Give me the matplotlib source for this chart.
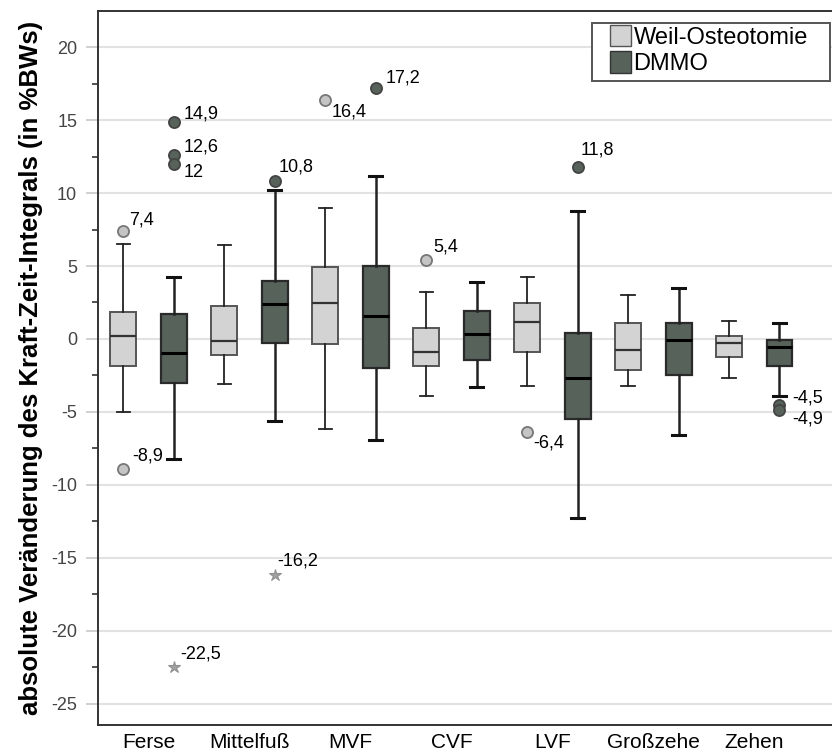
import matplotlib
matplotlib.use('Agg')
import matplotlib.pyplot as plt
from matplotlib.patches import Patch, Rectangle
from matplotlib.ticker import MultipleLocator

plt.rcParams['font.family'] = ['Liberation Sans', 'DejaVu Sans']
plt.rcParams['axes.unicode_minus'] = False

categories = ['Ferse', 'Mittelfuß', 'MVF', 'CVF', 'LVF', 'Großzehe', 'Zehen']
groups = ['Weil-Osteotomie', 'DMMO']

# box statistics per region
weil_whislo = [-4.98, -3.08, -6.15, -3.89, -3.2, -3.2, -2.65]
weil_q1     = [-1.83, -1.08, -0.34, -1.83, -0.87, -2.1, -1.21]
weil_med    = [0.23, -0.12, 2.45, -0.87, 1.14, -0.73, -0.25]
weil_q3     = [1.83, 2.28, 4.93, 0.75, 2.45, 1.1, 0.19]
weil_whishi = [6.53, 6.42, 9.0, 3.24, 4.23, 3.0, 1.21]

dmmo_whislo = [-8.2, -5.6, -6.94, -3.31, -12.29, -6.56, -3.89]
dmmo_q1     = [-3.02, -0.27, -1.97, -1.42, -5.48, -2.49, -1.83]
dmmo_med    = [-0.98, 2.42, 1.58, 0.36, -2.65, -0.07, -0.57]
dmmo_q3     = [1.69, 3.98, 5.0, 1.94, 0.41, 1.1, -0.05]
dmmo_whishi = [4.23, 10.21, 11.17, 3.89, 8.79, 3.47, 1.1]

# outliers: (region index, value); extremes drawn as stars
weil_outliers = [(0, 7.4), (0, -8.9), (2, 16.4), (3, 5.4), (4, -6.4)]
dmmo_outliers = [(0, 14.9), (0, 12.6), (0, 12.0), (1, 10.8), (2, 17.2),
                 (4, 11.8), (6, -4.5), (6, -4.9)]
dmmo_extremes = [(0, -22.5), (1, -16.2)]

# label offsets in pixels (right, up) for each outlier, same order as above
weil_lbl_off = [(6, 11), (9, 13), (6, -12), (7, 13), (6, -11)]
dmmo_lbl_off = [(10, 8), (10, 8), (10, -9), (4, 14), (10, 10),
                (3, 17), (13, 7), (13, -9)]
ext_lbl_off = [(7, 13), (3, 14)]

light = '#d3d3d3'
dark = '#57625b'

fig = plt.figure(figsize=(8.32, 7.53), dpi=100)
ax = fig.add_axes([98 / 832, 28 / 753, 735 / 832, 714 / 753])


def make_stats(lo, q1, med, q3, hi):
    return [dict(whislo=lo[i], q1=q1[i], med=med[i], q3=q3[i], whishi=hi[i], fliers=[])
            for i in range(len(lo))]


off = 0.25
pos_w = [i - off for i in range(len(categories))]
pos_d = [i + off for i in range(len(categories))]

ax.bxp(make_stats(weil_whislo, weil_q1, weil_med, weil_q3, weil_whishi),
       positions=pos_w, widths=0.257, capwidths=0.13, patch_artist=True, showfliers=False,
       boxprops=dict(facecolor=light, edgecolor='#555555', linewidth=1.4),
       medianprops=dict(color='#333333', linewidth=1.6),
       whiskerprops=dict(color='#222222', linewidth=1.3),
       capprops=dict(color='#222222', linewidth=1.3), zorder=3)
ax.bxp(make_stats(dmmo_whislo, dmmo_q1, dmmo_med, dmmo_q3, dmmo_whishi),
       positions=pos_d, widths=0.257, capwidths=0.13, patch_artist=True, showfliers=False,
       boxprops=dict(facecolor=dark, edgecolor='#2a2a2a', linewidth=1.6),
       medianprops=dict(color='#000000', linewidth=2.2),
       whiskerprops=dict(color='#222222', linewidth=1.8),
       capprops=dict(color='#111111', linewidth=2.2), zorder=3)


def fmt(v):
    s = ('%.1f' % v).rstrip('0').rstrip('.')
    return s.replace('.', ',')


for (i, v), o in zip(weil_outliers, weil_lbl_off):
    ax.plot(pos_w[i], v, 'o', ms=8, mfc='#c4c4c4', mec='#777777', mew=1.3, zorder=4)
    ax.annotate(fmt(v), (pos_w[i], v), xytext=o, textcoords='offset pixels',
                fontsize=13, va='center', ha='left')
for (i, v), o in zip(dmmo_outliers, dmmo_lbl_off):
    ax.plot(pos_d[i], v, 'o', ms=8, mfc=dark, mec='#444444', mew=1.3, zorder=4)
    ax.annotate(fmt(v), (pos_d[i], v), xytext=o, textcoords='offset pixels',
                fontsize=13, va='center', ha='left')
for (i, v), o in zip(dmmo_extremes, ext_lbl_off):
    ax.plot(pos_d[i], v, '*', ms=9, mfc='#a0a0a0', mec='#909090', mew=0.8, zorder=4)
    ax.annotate(fmt(v), (pos_d[i], v), xytext=o, textcoords='offset pixels',
                fontsize=13, va='center', ha='left')

ax.set_xlim(-0.5, 6.78)
ax.set_ylim(-26.46, 22.48)
ax.set_xticks(range(len(categories)))
ax.set_xticklabels(categories, fontsize=15)
ax.tick_params(axis='x', length=0, pad=6)
ax.yaxis.set_major_locator(MultipleLocator(5))
ax.yaxis.set_minor_locator(MultipleLocator(2.5))
ax.tick_params(axis='y', which='major', length=9, color='#c8c8c8', width=1.2,
               labelsize=13, labelcolor='#444444', pad=6)
ax.tick_params(axis='y', which='minor', length=4.5, color='#333333', width=1.2)
ax.grid(axis='y', which='major', color='#e2e2e2', linewidth=1.5, zorder=0)
ax.set_axisbelow(True)
for s in ax.spines.values():
    s.set_color('#333333')
    s.set_linewidth(1.4)

ax.set_ylabel('absolute Veränderung des Kraft-Zeit-Integrals (in %BWs)',
              fontsize=18.5, fontweight='bold', labelpad=6)

handles = [Patch(facecolor=light, edgecolor='#555555', label=groups[0]),
           Patch(facecolor=dark, edgecolor='#333333', label=groups[1])]
# legend frame drawn separately (wider side padding than matplotlib allows)
ax.add_patch(Rectangle((592 / 832, 1 - 81 / 753), 238 / 832, 58 / 753,
                       transform=fig.transFigure, facecolor='white', clip_on=False,
                       edgecolor='#555555', linewidth=1.4, zorder=5))
leg = ax.legend(handles=handles, loc='upper left', fontsize=17, frameon=False,
                handlelength=0.9, handleheight=1.0, handletextpad=0.1, borderpad=0.0,
                labelspacing=0.12, borderaxespad=0.0)
leg.set_bbox_to_anchor((610 / 832, 1 - 25 / 753), transform=fig.transFigure)
leg.set_zorder(6)

fig.savefig('out.png', dpi=100)
